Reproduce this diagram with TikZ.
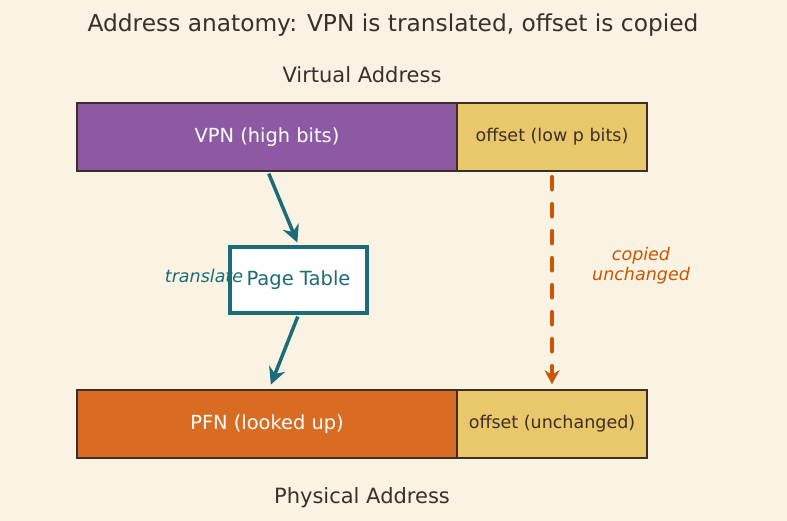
\documentclass[tikz,border=0pt]{standalone}
\usepackage{fontspec}
\setmainfont{DejaVu Sans}
\usepackage{xcolor}
\usetikzlibrary{positioning,arrows.meta,calc}
\definecolor{paper}{HTML}{FAF2E3}
\definecolor{ink}{HTML}{3B2F28}
\definecolor{vpncol}{HTML}{8E59A3}
\definecolor{pfncol}{HTML}{D86C22}
\definecolor{offcol}{HTML}{E8C86A}
\definecolor{teal}{HTML}{1B6B78}
\definecolor{copyc}{HTML}{CC5500}

\begin{document}
\begin{tikzpicture}[x=1pt, y=-1pt,
  field/.style={draw=ink, line width=1.5pt, minimum height=68pt, inner sep=0pt},
  arr/.style={-{Stealth[length=17pt, width=17pt]}, line width=3.5pt, teal},
  lbl/.style={font=\fontsize{21}{25}\selectfont, text=ink}
]
% background and canvas
\fill[paper] (0,0) rectangle (787,521);
\useasboundingbox (0,0) rectangle (787,521);

\node[lbl, font=\fontsize{23.3}{28}\selectfont] (title) at (393,25)
  {Address anatomy: VPN is translated, offset is copied};

% virtual address
\node[lbl] (vlabel) at (362,75) {Virtual Address};
\node[field, fill=vpncol, minimum width=380pt, text=white,
  font=\fontsize{19.4}{23}\selectfont] (vpn) at (267,137) {VPN (high bits)};
\node[field, fill=offcol, minimum width=190pt, text=ink,
  font=\fontsize{17.5}{21}\selectfont] (voff) at (552,137) {offset (low p bits)};

% page table
\node[draw=teal, line width=3.5pt, fill=white, minimum width=137pt,
  minimum height=66pt, text=teal, font=\fontsize{19.5}{23}\selectfont]
  (ptable) at (298.5,280) {\raisebox{-2pt}{Page Table}};

% physical address
\node[field, fill=pfncol, minimum width=380pt, text=white,
  font=\fontsize{19.4}{23}\selectfont] (pfn) at (267,424) {PFN (looked up)};
\node[field, fill=offcol, minimum width=190pt, text=ink,
  font=\fontsize{17.5}{21}\selectfont] (poff) at (552,424) {offset (unchanged)};
\node[lbl] (plabel) at (362,498) {Physical Address};

% arrows
\draw[arr, shorten <=2pt, shorten >=3pt] ($(vpn.south)+(1,0)$) -- (ptable.north);
\draw[arr, shorten <=2pt, shorten >=5pt] (ptable.south) -- ($(pfn.north)+(2,0)$);
\draw[-{Stealth[length=14pt, width=15pt]}, copyc, line width=3.5pt,
  dash pattern=on 13pt off 14pt, line cap=round, shorten <=5pt, shorten >=5pt]
  (voff.south) -- (poff.north);

\node[text=teal, font=\fontsize{17.5}{21}\selectfont\itshape] (tlabel) at (204,276) {translate};
\node[text=copyc, align=center, font=\fontsize{17.5}{20}\selectfont\itshape]
  (clabel) at (641,266) {copied\\unchanged};
\end{tikzpicture}
\end{document}
